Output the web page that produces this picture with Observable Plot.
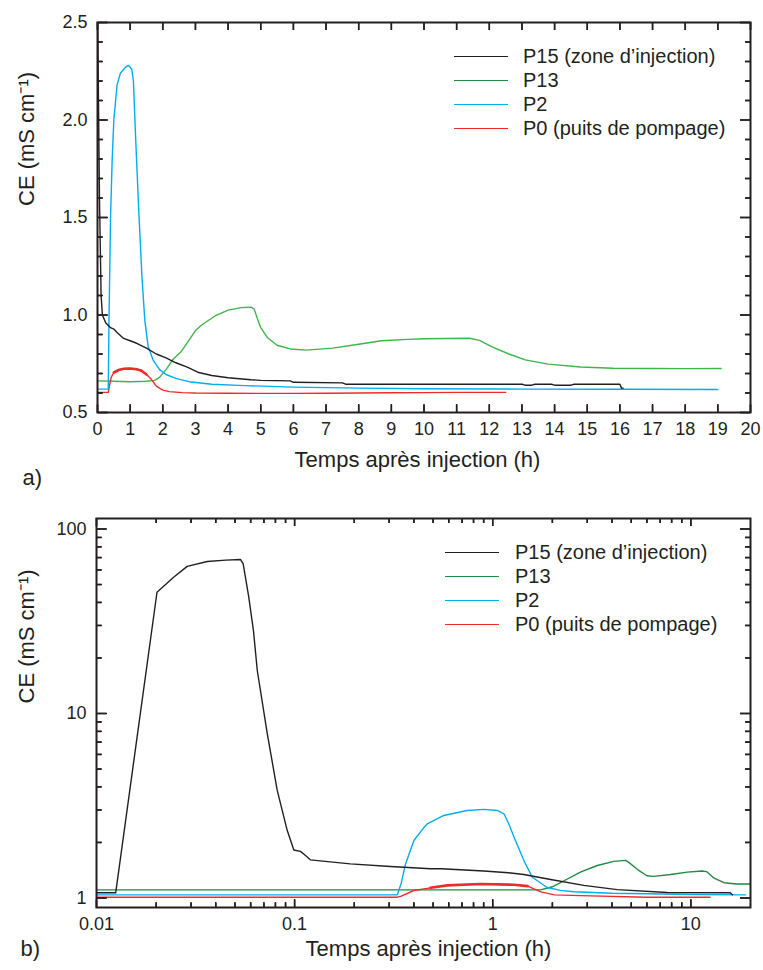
<!DOCTYPE html>
<html><head><meta charset="utf-8">
<script src="https://cdn.jsdelivr.net/npm/d3@7"></script>
<script src="https://cdn.jsdelivr.net/npm/@observablehq/plot@0.6"></script>
<style>
body{margin:0;background:#fff;font-family:"Liberation Sans",Arial,Helvetica,sans-serif;color:#231f20}
#fig{position:relative;width:763px;height:970px;overflow:hidden}
#fig > .panel{position:absolute;left:0}
.legend{position:absolute;font-size:20px;line-height:24px}
.legend .row{display:flex;align-items:center;height:24px;white-space:nowrap}
.legend .sw{display:inline-block;width:54px;height:0;border-top:1.6px solid}
</style></head><body><div id="fig"></div><script>
// ---------- labels ----------
const seriesNames = ["P15 (zone d’injection)", "P13", "P2", "P0 (puits de pompage)"];
const xTitle = "Temps après injection (h)";
const yTitle = "CE (mS cm⁻¹)";
const panelTags = ["a)", "b)"];

// ---------- panel a (linear) : [time h, CE] ----------
const p15a = [[0,2.6],[0.06,1.6],[0.09,1.3],[0.11,1.1],[0.15,1.0],[0.25,0.96],[0.4,0.935],[0.5,0.928],[0.6,0.91],[0.8,0.88],[1.0,0.868],[1.2,0.855],[1.5,0.83],[1.8,0.8],[2.1,0.78],[2.4,0.755],[2.75,0.733],[3.1,0.705],[3.5,0.69],[4.0,0.678],[4.7,0.668],[5.0,0.665],[5.9,0.662],[6.0,0.655],[7.5,0.652],[7.6,0.645],[13.0,0.645],[13.1,0.64],[13.3,0.64],[13.4,0.645],[13.9,0.645],[14.0,0.64],[14.5,0.64],[14.6,0.645],[16.0,0.645],[16.05,0.625],[16.1,0.625]];
const p13a = [[0,0.662],[0.5,0.66],[1.0,0.658],[1.5,0.66],[1.75,0.665],[1.9,0.68],[2.1,0.72],[2.3,0.77],[2.55,0.81],[2.8,0.87],[3.0,0.92],[3.2,0.95],[3.6,0.995],[4.0,1.025],[4.4,1.038],[4.7,1.04],[4.8,1.03],[4.9,0.98],[5.0,0.935],[5.2,0.885],[5.5,0.845],[5.9,0.826],[6.4,0.82],[7.2,0.83],[8.0,0.85],[8.7,0.868],[9.5,0.875],[10,0.878],[11.4,0.881],[11.7,0.87],[12.1,0.835],[12.6,0.8],[13.1,0.77],[13.8,0.748],[14.8,0.733],[15.8,0.727],[17,0.726],[18,0.725],[19.1,0.726]];
const p2a = [[0,0.62],[0.33,0.62],[0.35,0.95],[0.4,1.5],[0.45,1.8],[0.5,2.0],[0.6,2.18],[0.7,2.24],[0.85,2.27],[0.95,2.28],[1.05,2.26],[1.1,2.2],[1.17,1.9],[1.26,1.55],[1.36,1.2],[1.45,0.97],[1.55,0.84],[1.7,0.77],[1.9,0.72],[2.1,0.695],[2.4,0.675],[2.8,0.658],[3.5,0.645],[4.5,0.638],[6,0.63],[8,0.625],[10,0.622],[13,0.62],[16,0.619],[19,0.618]];
const p0a = [[0,0.603],[0.33,0.603],[0.38,0.65],[0.42,0.68],[0.5,0.705],[0.65,0.718],[0.8,0.724],[1.0,0.726],[1.2,0.722],[1.35,0.714],[1.5,0.695],[1.65,0.67],[1.8,0.635],[2.0,0.615],[2.2,0.607],[2.6,0.602],[3,0.6],[4,0.599],[5,0.598],[6,0.598],[7,0.599],[8,0.6],[9,0.601],[10,0.602],[11,0.603],[12.5,0.603]];

// ---------- panel b (log-log) ----------
const p15b = [[0.01,1.067],[0.0125,1.067],[0.0202,45.4],[0.0245,54.8],[0.0287,62.7],[0.0362,66.7],[0.045,67.8],[0.0533,68.4],[0.055,64.7],[0.0587,42.7],[0.062,28],[0.0648,17.1],[0.0728,7.76],[0.0817,3.83],[0.0918,2.32],[0.0991,1.82],[0.107,1.79],[0.112,1.72],[0.12,1.61],[0.191,1.53],[0.305,1.48],[0.485,1.44],[0.55,1.44],[0.902,1.4],[1.2,1.37],[1.435,1.34],[1.96,1.26],[2.88,1.17],[4.25,1.11],[7.6,1.07],[15.8,1.067],[16.2,1.04]];
const p13b = [[0.01,1.107],[1.74,1.107],[2.0,1.15],[2.29,1.24],[2.77,1.38],[3.37,1.5],[4.08,1.58],[4.68,1.6],[4.86,1.56],[5.36,1.43],[6.0,1.32],[6.5,1.31],[7.9,1.34],[9.6,1.38],[11.4,1.4],[12.0,1.39],[13.1,1.28],[14.7,1.21],[17,1.19],[20,1.19]];
const p2b = [[0.01,1.04],[0.33,1.04],[0.345,1.2],[0.363,1.53],[0.4,2.05],[0.448,2.4],[0.467,2.52],[0.566,2.8],[0.743,2.98],[0.902,3.02],[1.054,2.98],[1.14,2.86],[1.2,2.55],[1.28,2.14],[1.435,1.6],[1.58,1.3],[1.88,1.14],[2.2,1.1],[2.57,1.08],[4,1.06],[6,1.054],[10,1.045],[18.9,1.04]];
const p0b = [[0.01,1.01],[0.33,1.01],[0.343,1.02],[0.4,1.098],[0.485,1.135],[0.59,1.17],[0.866,1.19],[1.28,1.18],[1.5,1.16],[1.75,1.08],[2.05,1.04],[2.77,1.03],[6,1.01],[12.5,1.01]];

// ---------- ticks ----------
const aXTicks = [0,1,2,3,4,5,6,7,8,9,10,11,12,13,14,15,16,17,18,19,20];
const aYMajor = [0.5,1.0,1.5,2.0,2.5];
const aYMinor = [0.6,0.7,0.8,0.9,1.1,1.2,1.3,1.4,1.6,1.7,1.8,1.9,2.1,2.2,2.3,2.4];
const bXMajor = [0.01,0.1,1,10];
const bXMinor = [0.02,0.03,0.04,0.05,0.06,0.07,0.08,0.09,0.2,0.3,0.4,0.5,0.6,0.7,0.8,0.9,2,3,4,5,6,7,8,9];
const bYMajor = [1,10,100];
const bYMinor = [2,3,4,5,6,7,8,9,20,30,40,50,60,70,80,90];

const ink = "#231f20";
const colA = [ink, "#3db54a", "#00aeef", "#ee2b2b"];
const legA = [ink, "#23893f", "#00aeef", "#ee2b2b"];
const colB = [ink, "#1f8a40", "#00aeef", "#ee2b2b"];
const FONT = "'Liberation Sans', Arial, Helvetica, sans-serif";

// inward tick marks on all four sides (rules + tick-only axes, drawn at the same spots)
function tickMarks(fw, fh, xMaj, xMin, yMaj, yMin, lx, lxm, ly, lym) {
  const s = {stroke: ink, strokeWidth: 1.5};
  const t = {fill: "none", label: null, stroke: ink, strokeWidth: 1.5};
  const m = [
    Plot.ruleX(xMaj, {x: d => d, insetTop: fh - lx, ...s}),
    Plot.ruleX(xMaj, {x: d => d, insetBottom: fh - lx, ...s}),
    Plot.ruleY(yMaj, {y: d => d, insetRight: fw - ly, ...s}),
    Plot.ruleY(yMaj, {y: d => d, insetLeft: fw - ly, ...s}),
    Plot.ruleY(yMin, {y: d => d, insetRight: fw - lym, ...s}),
    Plot.ruleY(yMin, {y: d => d, insetLeft: fw - lym, ...s}),
    Plot.axisX(xMaj, {anchor: "top", tickSize: lx, dy: fh, ...t}),
    Plot.axisX(xMaj, {anchor: "bottom", tickSize: lx, dy: -fh, ...t}),
    Plot.axisY(yMaj, {anchor: "right", tickSize: ly, dx: -fw, ...t}),
    Plot.axisY(yMaj, {anchor: "left", tickSize: ly, dx: fw, ...t}),
    Plot.axisY(yMin, {anchor: "right", tickSize: lym, dx: -fw, ...t}),
    Plot.axisY(yMin, {anchor: "left", tickSize: lym, dx: fw, ...t})
  ];
  if (xMin) {
    m.push(Plot.ruleX(xMin, {x: d => d, insetTop: fh - lxm, ...s}));
    m.push(Plot.ruleX(xMin, {x: d => d, insetBottom: fh - lxm, ...s}));
    m.push(Plot.axisX(xMin, {anchor: "top", tickSize: lxm, dy: fh, ...t}));
    m.push(Plot.axisX(xMin, {anchor: "bottom", tickSize: lxm, dy: -fh, ...t}));
  }
  return m;
}

function lines(series, colors, noisyRange) {
  const order = [1, 3, 2, 0];
  const m = [];
  for (const i of order) {
    m.push(Plot.line(series[i], {x: d => d[0], y: d => d[1], stroke: colors[i], strokeWidth: 1.4, clip: true}));
  }
  // thicker trace where the P0 record is noisy
  m.push(Plot.line(series[3].filter(d => d[0] >= noisyRange[0] && d[0] <= noisyRange[1]),
    {x: d => d[0], y: d => d[1], stroke: colors[3], strokeWidth: 2.6, clip: true}));
  return m;
}

function legend(left, top, colors, gap) {
  const div = document.createElement("div");
  div.className = "legend";
  div.style.left = left + "px";
  div.style.top = top + "px";
  seriesNames.forEach((name, i) => {
    const row = document.createElement("div");
    row.className = "row";
    const sw = document.createElement("span");
    sw.className = "sw";
    sw.style.borderTopColor = colors[i];
    sw.style.marginRight = gap + "px";
    const tx = document.createElement("span");
    tx.textContent = name;
    row.append(sw, tx);
    div.append(row);
  });
  return div;
}

const fig = document.getElementById("fig");

// ---------- panel a ----------
const A = {w: 763, h: 500, ml: 97, mr: 13, mt: 22, mb: 88};
const fwA = A.w - A.ml - A.mr, fhA = A.h - A.mt - A.mb;
const plotA = Plot.plot({
  width: A.w, height: A.h,
  marginLeft: A.ml, marginRight: A.mr, marginTop: A.mt, marginBottom: A.mb,
  style: {fontFamily: FONT, fontSize: "18px", color: ink, background: "white"},
  x: {type: "linear", domain: [0, 20]},
  y: {type: "linear", domain: [0.5, 2.5]},
  marks: [
    ...lines([p15a, p13a, p2a, p0a], colA, [0.45, 1.55]),
    Plot.frame({stroke: ink, strokeWidth: 2}),
    Plot.axisX(aXTicks, {anchor: "bottom", tickSize: 0, tickPadding: 10, fontSize: 18, label: null}),
    Plot.axisY(aYMajor, {anchor: "left", tickSize: 0, tickPadding: 10, fontSize: 18, label: null, tickFormat: d3.format(".1f")}),
    Plot.text([xTitle], {frameAnchor: "bottom", dx: -6.5, dy: 54.5, fontSize: 22, fill: ink}),
    Plot.text([yTitle], {frameAnchor: "left", rotate: -90, dx: -71, dy: -11.5, fontSize: 22, fill: ink}),
    Plot.text([panelTags[0]], {frameAnchor: "bottom-left", textAnchor: "start", dx: -75, dy: 72, fontSize: 22, fill: ink}),
    ...tickMarks(fwA, fhA, aXTicks, null, aYMajor, aYMinor, 8, 0, 10, 5)
  ]
});
plotA.classList.add("panel");
plotA.style.top = "0px";
fig.append(plotA);
fig.append(legend(454, 44.4, legA, 15));

// ---------- panel b ----------
const B = {w: 763, h: 470, ml: 96, mr: 13, mt: 18, mb: 63};
const fwB = B.w - B.ml - B.mr, fhB = B.h - B.mt - B.mb;
const plotB = Plot.plot({
  width: B.w, height: B.h,
  marginLeft: B.ml, marginRight: B.mr, marginTop: B.mt, marginBottom: B.mb,
  style: {fontFamily: FONT, fontSize: "18px", color: ink, background: "white"},
  x: {type: "log", domain: [0.01, 20]},
  y: {type: "log", domain: [0.888, 114]},
  marks: [
    ...lines([p15b, p13b, p2b, p0b], colB, [0.45, 1.6]),
    Plot.frame({stroke: ink, strokeWidth: 2}),
    Plot.axisX(bXMajor, {anchor: "bottom", tickSize: 0, tickPadding: 10, fontSize: 18, label: null, tickFormat: d => String(d)}),
    Plot.axisY(bYMajor, {anchor: "left", tickSize: 0, tickPadding: 10, fontSize: 18, label: null, tickFormat: d => String(d)}),
    Plot.text([xTitle], {frameAnchor: "bottom", dx: 5, dy: 48, fontSize: 22, fill: ink}),
    Plot.text([yTitle], {frameAnchor: "left", rotate: -90, dx: -70, dy: -9.5, fontSize: 22, fill: ink}),
    Plot.text([panelTags[1]], {frameAnchor: "bottom-left", textAnchor: "start", dx: -76, dy: 48, fontSize: 22, fill: ink}),
    ...tickMarks(fwB, fhB, bXMajor, bXMinor, bYMajor, bYMinor, 8, 5, 10, 5)
  ]
});
plotB.classList.add("panel");
plotB.style.top = "500px";
fig.append(plotB);
fig.append(legend(445, 540.4, colB, 16));
</script></body></html>
